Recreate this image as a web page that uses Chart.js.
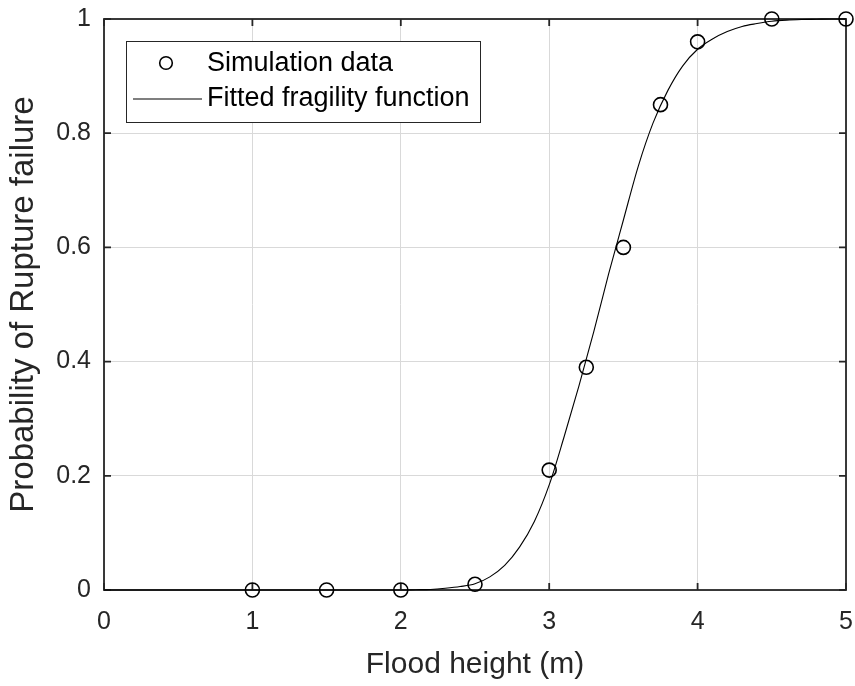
<!DOCTYPE html>
<html>
<head>
<meta charset="utf-8">
<script src="https://cdn.jsdelivr.net/npm/chart.js@4.4.1/dist/chart.umd.min.js"></script>
<style>
  html, body { margin: 0; padding: 0; background: #ffffff; }
  #wrap { width: 855px; height: 686px; position: relative; }
</style>
</head>
<body>
<div id="wrap"><canvas id="c"></canvas></div>
<script>
// Axis ticks
const xTickValues = [0, 1, 2, 3, 4, 5];
const xTickLabels = ['0', '1', '2', '3', '4', '5'];
const yTickValues = [0, 0.2, 0.4, 0.6, 0.8, 1];
const yTickLabels = ['0', '0.2', '0.4', '0.6', '0.8', '1'];

// Simulated rupture probabilities
const simHeights = [1, 1.5, 2, 2.5, 3, 3.25, 3.5, 3.75, 4, 4.5, 5];
const simProb    = [0, 0, 0, 0.01, 0.21, 0.39, 0.60, 0.85, 0.96, 1.0, 1.0];

// Fitted fragility curve
const fitHeights = [0, 0.5, 1, 1.5, 2,
  2.1, 2.2, 2.3, 2.4, 2.5, 2.6, 2.7, 2.8, 2.9, 3.0,
  3.1, 3.2, 3.3, 3.4, 3.5, 3.6, 3.7, 3.8, 3.9, 4.0,
  4.1, 4.2, 4.3, 4.4, 4.5, 4.6, 4.7, 4.8, 4.9, 5.0];
const fitProb = [0, 0, 0, 0, 0,
  0.0005, 0.001, 0.003, 0.006, 0.011, 0.023, 0.043, 0.075, 0.12, 0.184,
  0.268, 0.357, 0.452, 0.553, 0.648, 0.742, 0.818, 0.875, 0.918, 0.947,
  0.965, 0.978, 0.987, 0.992, 0.996, 0.998, 0.999, 0.9995, 1, 1];

const seriesNames = ['Simulation data', 'Fitted fragility function'];

const AXIS_COLOR = '#262626';
const GRID_COLOR = '#d9d9d9';
const FONT = "'Liberation Sans', Arial, Helvetica, sans-serif";

function labelFor(values, labels, v) {
  let best = 0;
  for (let i = 1; i < values.length; i++) {
    if (Math.abs(values[i] - v) < Math.abs(values[best] - v)) best = i;
  }
  return labels[best];
}

// Keep the plot rectangle fixed: no extra room for overhanging end labels
function fixPadding(scale) {
  scale.paddingLeft = 0;
  scale.paddingRight = 0;
  scale.paddingTop = 0;
  scale.paddingBottom = 0;
}

// Full box around the plot with inward ticks on all four sides
const axesBox = {
  id: 'axesBox',
  beforeDatasetsDraw(chart) {
    const { ctx, chartArea: a, scales: { x, y } } = chart;
    const len = 7;
    ctx.save();
    ctx.strokeStyle = AXIS_COLOR;
    ctx.lineWidth = 1.8;
    ctx.beginPath();
    xTickValues.forEach(v => {
      const px = x.getPixelForValue(v);
      ctx.moveTo(px, a.bottom); ctx.lineTo(px, a.bottom - len);
      ctx.moveTo(px, a.top); ctx.lineTo(px, a.top + len);
    });
    yTickValues.forEach(v => {
      const py = y.getPixelForValue(v);
      ctx.moveTo(a.left, py); ctx.lineTo(a.left + len, py);
      ctx.moveTo(a.right, py); ctx.lineTo(a.right - len, py);
    });
    ctx.stroke();
    ctx.strokeRect(a.left, a.top, a.right - a.left, a.bottom - a.top);
    ctx.restore();
  }
};

// Boxed legend in the upper-left corner of the plot
const boxedLegend = {
  id: 'boxedLegend',
  afterDraw(chart) {
    const { ctx } = chart;
    const bx = 126, by = 41, bw = 354, bh = 81;
    ctx.save();
    ctx.fillStyle = '#ffffff';
    ctx.fillRect(bx, by, bw, bh);
    ctx.strokeStyle = AXIS_COLOR;
    ctx.lineWidth = 1;
    ctx.strokeRect(bx + 0.5, by + 0.5, bw, bh);

    const sim = chart.data.datasets[0];
    const fit = chart.data.datasets[1];
    const row1 = 64, row2 = 99, textX = 207;

    ctx.strokeStyle = sim.borderColor;
    ctx.lineWidth = 1.6;
    ctx.beginPath();
    ctx.arc(166, row1 - 1, 6.3, 0, Math.PI * 2);
    ctx.stroke();

    ctx.strokeStyle = fit.borderColor;
    ctx.lineWidth = 1.1;
    ctx.beginPath();
    ctx.moveTo(133, row2); ctx.lineTo(202, row2);
    ctx.stroke();

    ctx.fillStyle = '#000000';
    ctx.font = '27px ' + FONT;
    ctx.textBaseline = 'middle';
    ctx.textAlign = 'left';
    ctx.fillText(sim.label, textX, row1);
    ctx.fillText(fit.label, textX, row2);
    ctx.restore();
  }
};

new Chart(document.getElementById('c'), {
  type: 'scatter',
  data: {
    datasets: [
      {
        label: seriesNames[0],
        data: simHeights.map((h, i) => ({ x: h, y: simProb[i] })),
        showLine: false,
        pointStyle: 'circle',
        pointRadius: 7,
        pointHoverRadius: 7,
        pointBorderWidth: 1.6,
        borderColor: '#000000',
        pointBorderColor: '#000000',
        backgroundColor: 'rgba(0,0,0,0)',
        pointBackgroundColor: 'rgba(0,0,0,0)',
        clip: false,
        order: 0
      },
      {
        label: seriesNames[1],
        data: fitHeights.map((h, i) => ({ x: h, y: fitProb[i] })),
        showLine: true,
        pointRadius: 0,
        pointHoverRadius: 0,
        borderColor: '#000000',
        borderWidth: 1.1,
        backgroundColor: 'rgba(0,0,0,0)',
        fill: false,
        cubicInterpolationMode: 'monotone',
        clip: false,
        order: 1
      }
    ]
  },
  options: {
    responsive: true,
    maintainAspectRatio: false,
    devicePixelRatio: 1,
    animation: false,
    events: [],
    layout: { padding: { top: 19, right: 9, left: 0, bottom: 0 } },
    plugins: {
      legend: { display: false },
      tooltip: { enabled: false }
    },
    scales: {
      x: {
        type: 'linear',
        min: 0,
        max: 5,
        afterBuildTicks(scale) { scale.ticks = xTickValues.map(v => ({ value: v })); },
        afterFit(scale) { scale.height = 96; fixPadding(scale); },
        ticks: {
          padding: 17,
          color: AXIS_COLOR,
          font: { family: FONT, size: 25 },
          maxRotation: 0,
          callback: v => labelFor(xTickValues, xTickLabels, v)
        },
        grid: { color: GRID_COLOR, lineWidth: 1, drawTicks: false },
        border: { display: false },
        title: {
          display: true,
          text: 'Flood height (m)',
          color: AXIS_COLOR,
          font: { family: FONT, size: 30 },
          padding: { top: 0, bottom: 3 }
        }
      },
      y: {
        type: 'linear',
        min: 0,
        max: 1,
        afterBuildTicks(scale) { scale.ticks = yTickValues.map(v => ({ value: v })); },
        afterFit(scale) { scale.width = 104; fixPadding(scale); },
        ticks: {
          padding: 13,
          color: AXIS_COLOR,
          font: { family: FONT, size: 25 },
          callback: v => labelFor(yTickValues, yTickLabels, v)
        },
        grid: { color: GRID_COLOR, lineWidth: 1, drawTicks: false },
        border: { display: false },
        title: {
          display: true,
          text: 'Probability of Rupture failure',
          color: AXIS_COLOR,
          font: { family: FONT, size: 33 },
          padding: { top: 4, bottom: 0 }
        }
      }
    }
  },
  plugins: [axesBox, boxedLegend]
});
</script>
</body>
</html>
